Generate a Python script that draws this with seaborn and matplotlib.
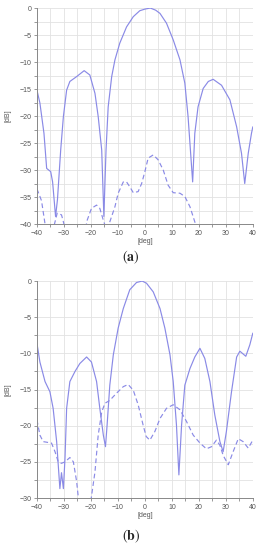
import numpy as np
import pandas as pd
import seaborn as sns
import matplotlib.pyplot as plt
from matplotlib.ticker import MultipleLocator

# (a) pattern, solid = co-pol, dashed = cross-pol
a_solid_deg = [-40, -38.9, -37.4, -36.4, -34.9, -34.2, -33.1, -32.4, -31.2, -30.2, -29.0, -27.8,
               -25.3, -22.5, -20.4, -18.5, -17.3, -16.0, -15.2, -14.4, -13.6, -12.3, -11.1, -9.3,
               -6.8, -4.3, -1.9, 0, 2, 4.0, 5.6, 8.0, 10.5, 13.0, 14.8, 16.0, 17.7, 18.5, 19.7, 21.6,
               23.5, 25.3, 28.4, 31.5, 34.0, 35.8, 37.0, 38.3, 39.5, 40]
a_solid_db = [-15.2, -17.6, -23.2, -29.7, -30.3, -32.2, -38.6, -35.5, -26.3, -20.1, -15.2, -13.6,
              -12.7, -11.6, -12.4, -15.8, -20.1, -26.3, -38.6, -26.3, -18.3, -12.7, -9.6, -6.5,
              -3.5, -1.6, -0.5, -0.2, 0.0, -0.4, -1.0, -2.8, -5.9, -9.6, -13.9, -20.1, -32.2, -23.2, -18.3, -14.9,
              -13.6, -13.2, -14.3, -17.0, -22.0, -26.9, -32.5, -26.9, -23.2, -22.0]

a_dash_deg = [-40, -38.9, -38.3, -37, -35, -33.3, -32.5, -30.9, -30.2, -28, -25, -22, -21.6, -19.8,
              -17.9, -16.7, -15.4, -14.3, -13, -11.1, -9.9, -8.0, -6.8, -5.6, -4.3, -2.5, -1.2, 0,
              1.2, 3.1, 4.9, 6.8, 8.6, 10.5, 13.0, 14.8, 16.7, 18.5, 20, 25, 30, 35, 40]
a_dash_db = [-33.5, -34.9, -35.7, -40, -43, -39.6, -38.0, -38.3, -39.6, -44, -46, -43, -39.6, -37.1,
             -36.5, -37.1, -39.3, -41, -39.6, -36.8, -34.3, -32.2, -32.2, -33.1, -34.2, -34.0, -32.5, -30.3,
             -27.8, -27.2, -28.1, -30.0, -32.8, -34.2, -34.3, -34.9, -36.8, -39.6, -42, -45, -45, -45, -45]

# (b) pattern
b_solid_deg = [-40, -38.9, -37.0, -35.2, -34.0, -32.7, -31.5, -30.9, -30.2, -29.6, -29.0, -27.8,
               -25.9, -24.1, -21.6, -19.8, -17.9, -16.7, -15.4, -14.6, -14.0, -13.0, -11.7, -9.9,
               -8.0, -5.6, -3.1, -1.0, 0.6, 3.1, 5.6, 7.4, 9.3, 10.5, 11.7, 12.6, 13.6, 14.8, 16.7,
               18.5, 20.4, 22.2, 24.1, 25.9, 27.8, 29.0, 30.2, 32.1, 34.0, 35.2, 37.4, 38.9, 40]
b_solid_db = [-8.6, -11.2, -13.9, -15.3, -17.6, -22.2, -28.7, -26.5, -28.7, -24.5, -17.6, -13.9,
              -12.5, -11.4, -10.5, -11.2, -13.9, -17.6, -21.3, -22.9, -19.9, -14.4, -10.2, -6.5,
              -3.8, -1.2, -0.2, 0.0, -0.3, -1.5, -3.8, -6.5, -10.2, -13.9, -19.9, -26.8, -19.9, -14.4, -12.1,
              -10.5, -9.3, -10.7, -13.9, -18.5, -22.2, -23.6, -20.8, -15.3, -10.5, -9.7, -10.4, -8.8, -7.2]

b_dash_deg = [-40, -38.9, -37.7, -34.6, -33.3, -32.1, -30.9, -29.6, -27.8, -26.5, -25.3, -24.7, -23,
              -21, -19.8, -18.5, -17.3, -16.0, -14.8, -13.0, -10.5, -8.0, -6.2, -4.3, -2.5, -0.6, 0.5,
              1.85, 3.7, 5.6, 8.0, 10.5, 13.0, 15.4, 17.9, 20.4, 22.8, 24.7, 26.5, 27.8, 29.0, 30.9,
              32.7, 34.6, 36.4, 38.3, 40]
b_dash_db = [-19.2, -21.3, -22.2, -22.4, -23.6, -25.0, -25.2, -25.0, -24.4, -25.0, -27.7, -29.8, -33,
             -33, -29.8, -26.4, -21.3, -18.1, -16.9, -16.5, -15.5, -14.6, -14.3, -15.1, -17.1, -20.0, -21.5,
             -22.0, -20.8, -19.0, -17.6, -17.1, -17.8, -19.4, -21.3, -22.4, -23.2, -22.9, -22.0, -22.7, -24.1, -25.4,
             -23.6, -21.8, -22.2, -23.1, -22.0]

LINE = '#8a8ae6'
GRID = '#e2e2e2'
TXT = '#555555'

sns.set_style('white')
plt.rcParams['font.family'] = ['Liberation Sans', 'DejaVu Sans']
plt.rcParams['mathtext.fontset'] = 'stix'


def draw_panel(ax, sdeg, sdb, ddeg, ddb, ymin):
    solid = pd.DataFrame({'deg': sdeg, 'dB': sdb})
    dash = pd.DataFrame({'deg': ddeg, 'dB': ddb})
    sns.lineplot(data=solid, x='deg', y='dB', ax=ax, color=LINE, linewidth=0.85)
    sns.lineplot(data=dash, x='deg', y='dB', ax=ax, color=LINE, linewidth=0.85,
                 linestyle=(0, (4, 2.5)))
    ax.set_xlim(-40, 40)
    ax.set_ylim(ymin, 0)
    ax.xaxis.set_major_locator(MultipleLocator(10))
    ax.xaxis.set_minor_locator(MultipleLocator(5))
    ax.yaxis.set_major_locator(MultipleLocator(5))
    ax.yaxis.set_minor_locator(MultipleLocator(2.5))
    ax.grid(True, which='both', color=GRID, linewidth=0.6)
    ax.set_axisbelow(True)
    for s in ['top', 'right']:
        ax.spines[s].set_visible(False)
    for s in ['left', 'bottom']:
        ax.spines[s].set_color('#888888')
        ax.spines[s].set_linewidth(0.7)
    ax.tick_params(which='both', direction='out', length=2.5, width=0.6, color='#888888',
                   labelsize=5, labelcolor=TXT, pad=1.5, left=True, bottom=True)
    ax.set_xlabel('[deg]', fontsize=5, color=TXT, labelpad=1)
    ax.set_ylabel('[dB]', fontsize=5, color=TXT)
    ax.yaxis.set_label_coords(-0.12, 0.5)


fig = plt.figure(figsize=(2.62, 5.5), dpi=100)
ax1 = fig.add_axes([0.141, 0.5927, 0.824, 0.3927])
ax2 = fig.add_axes([0.141, 0.0945, 0.824, 0.3945])

draw_panel(ax1, a_solid_deg, a_solid_db, a_dash_deg, a_dash_db, -40)
draw_panel(ax2, b_solid_deg, b_solid_db, b_dash_deg, b_dash_db, -30)

fig.text(0.5, 0.533, r'$(\mathbf{a})$', ha='center', va='center', fontsize=10)
fig.text(0.5, 0.024, r'$(\mathbf{b})$', ha='center', va='center', fontsize=10)

fig.savefig('out.png', dpi=100)
